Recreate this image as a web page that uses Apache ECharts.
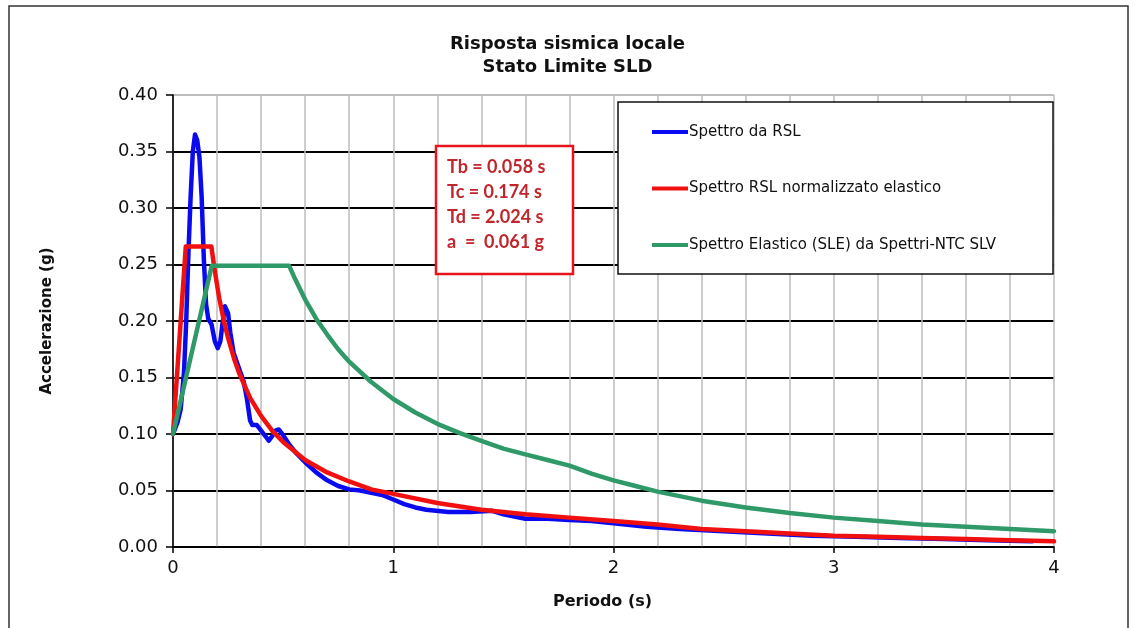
<!DOCTYPE html>
<html>
<head>
<meta charset="utf-8">
<title>Risposta sismica locale - Stato Limite SLD</title>
<script src="https://cdn.jsdelivr.net/npm/echarts@6/dist/echarts.min.js"></script>
<style>
  html, body { margin: 0; padding: 0; background: #fff; }
  #chart { width: 1135px; height: 628px; }
</style>
</head>
<body>
<div id="chart"></div>
<script>
// Spettro da RSL (periodo s, accelerazione g)
const periodRSL = [0, 0.02, 0.035, 0.05, 0.06, 0.07, 0.08, 0.09, 0.10, 0.11, 0.12, 0.13, 0.14, 0.15, 0.16,
  0.175, 0.19, 0.203, 0.215, 0.225, 0.236, 0.25, 0.26, 0.275, 0.30, 0.32, 0.335, 0.35, 0.36, 0.38, 0.40,
  0.42, 0.435, 0.45, 0.465, 0.48, 0.50, 0.53, 0.56, 0.60, 0.65, 0.70, 0.75, 0.80, 0.85, 0.90, 0.95, 1.00,
  1.05, 1.10, 1.15, 1.25, 1.35, 1.45, 1.50, 1.55, 1.60, 1.70, 1.80, 1.90, 2.00, 2.15, 2.30, 2.50, 2.70,
  2.90, 3.10, 3.30, 3.50, 3.70, 3.90];
const accRSL = [0.100, 0.110, 0.122, 0.155, 0.200, 0.260, 0.310, 0.350, 0.365, 0.360, 0.345, 0.310, 0.255, 0.215, 0.202,
  0.197, 0.182, 0.176, 0.182, 0.198, 0.213, 0.207, 0.190, 0.172, 0.158, 0.147, 0.132, 0.112, 0.108, 0.108, 0.103,
  0.098, 0.094, 0.098, 0.103, 0.104, 0.099, 0.090, 0.083, 0.075, 0.066, 0.059, 0.054, 0.051, 0.050, 0.048, 0.046, 0.042,
  0.038, 0.035, 0.033, 0.031, 0.031, 0.032, 0.029, 0.027, 0.025, 0.025, 0.024, 0.023, 0.021, 0.018, 0.016, 0.014, 0.012,
  0.010, 0.009, 0.008, 0.007, 0.006, 0.005];

// Spettro RSL normalizzato elastico
const periodNorm = [0, 0.058, 0.174, 0.19, 0.21, 0.23, 0.25, 0.28, 0.30, 0.35, 0.40, 0.45, 0.50, 0.60, 0.70, 0.80, 0.90,
  1.00, 1.20, 1.40, 1.60, 1.80, 2.00, 2.20, 2.40, 2.60, 2.80, 3.00, 3.20, 3.40, 3.60, 3.80, 4.00];
const accNorm = [0.100, 0.266, 0.266, 0.244, 0.220, 0.201, 0.185, 0.165, 0.154, 0.132, 0.116, 0.103, 0.093, 0.077, 0.066,
  0.058, 0.051, 0.047, 0.039, 0.033, 0.029, 0.026, 0.023, 0.020, 0.016, 0.014, 0.012, 0.010, 0.009, 0.008, 0.007, 0.006, 0.005];

// Spettro Elastico (SLE) da Spettri-NTC SLV
const periodNTC = [0, 0.176, 0.527, 0.55, 0.60, 0.65, 0.70, 0.75, 0.80, 0.90, 1.00, 1.10, 1.20, 1.30, 1.40, 1.50,
  1.60, 1.70, 1.80, 1.90, 2.00, 2.10, 2.20, 2.40, 2.60, 2.80, 3.00, 3.20, 3.40, 3.60, 3.80, 4.00];
const accNTC = [0.100, 0.249, 0.249, 0.239, 0.219, 0.202, 0.188, 0.175, 0.164, 0.146, 0.131, 0.119, 0.109, 0.101, 0.094, 0.087,
  0.082, 0.077, 0.072, 0.065, 0.059, 0.054, 0.049, 0.041, 0.035, 0.030, 0.026, 0.023, 0.020, 0.018, 0.016, 0.014];

const seriesNames = ['Spettro da RSL', 'Spettro RSL normalizzato elastico', 'Spettro Elastico (SLE) da Spettri-NTC SLV'];
const seriesColors = ['#0a0af0', '#f01010', '#2f9a68'];
const xTicks = [0, 1, 2, 3, 4];
const yTicks = [0, 0.05, 0.10, 0.15, 0.20, 0.25, 0.30, 0.35, 0.40];
const paramLines = ['Tb = 0.058 s', 'Tc = 0.174 s', 'Td = 2.024 s', 'a  =  0.061 g'];

const pairs = (xs, ys) => xs.map((x, i) => [x, ys[i]]);
const seriesData = [pairs(periodRSL, accRSL), pairs(periodNorm, accNorm), pairs(periodNTC, accNTC)];

const chart = echarts.init(document.getElementById('chart'), null, { renderer: 'canvas' });

// Horizontal grid lines: black inside, grey along the top edge of the plot
const hLineColors = yTicks.map((v, i) => (i === yTicks.length - 1 ? '#bdbdbd' : '#000'));

const option = {
  backgroundColor: '#fff',
  animation: false,
  title: {
    text: 'Risposta sismica locale\nStato Limite SLD',
    left: 'center',
    top: 28,
    textStyle: { fontFamily: 'DejaVu Sans', fontWeight: 'bold', fontSize: 18, lineHeight: 23, color: '#111', align: 'center' }
  },
  grid: { left: 173, right: 81, top: 95, bottom: 81, containLabel: false },
  xAxis: {
    type: 'value',
    min: xTicks[0],
    max: xTicks[xTicks.length - 1],
    interval: 1,
    name: 'Periodo (s)',
    nameLocation: 'middle',
    nameGap: 47,
    nameTextStyle: { fontFamily: 'DejaVu Sans', fontWeight: 'bold', fontSize: 16, color: '#111', padding: [0, 22, 0, 0] },
    axisLine: { show: true, onZero: false, lineStyle: { color: '#000', width: 1.6 } },
    axisTick: { show: true, inside: false, length: 6, lineStyle: { color: '#000', width: 1.5 } },
    axisLabel: { margin: 12, fontFamily: 'DejaVu Sans', fontSize: 18, color: '#111' },
    splitLine: { show: true, lineStyle: { color: '#bdbdbd', width: 1.5 } },
    minorTick: { show: false, splitNumber: 5 },
    minorSplitLine: { show: true, lineStyle: { color: '#bdbdbd', width: 1.5 } }
  },
  yAxis: {
    type: 'value',
    min: yTicks[0],
    max: yTicks[yTicks.length - 1],
    interval: 0.05,
    name: 'Accelerazione (g)',
    nameLocation: 'middle',
    nameRotate: 90,
    nameGap: 118,
    nameTextStyle: { fontFamily: 'DejaVu Sans', fontWeight: 'bold', fontSize: 15, color: '#111' },
    axisLine: { show: true, lineStyle: { color: '#000', width: 1.6 } },
    axisTick: { show: true, inside: false, length: 7, lineStyle: { color: '#000', width: 1.5 } },
    axisLabel: {
      margin: 15,
      fontFamily: 'DejaVu Sans',
      fontSize: 18,
      color: '#111',
      formatter: v => v.toFixed(2)
    },
    splitLine: { show: true, lineStyle: { color: hLineColors, width: 1.8 } }
  },
  legend: {
    orient: 'vertical',
    left: 652,
    top: 123,
    padding: 0,
    itemGap: 38.5,
    itemWidth: 36,
    itemHeight: 4,
    icon: 'rect',
    z: 10,
    data: seriesNames,
    textStyle: { fontFamily: 'DejaVu Sans', fontSize: 15, lineHeight: 18, color: '#111', padding: [0, 0, 0, -4] }
  },
  graphic: [
    {
      type: 'rect',
      z: 5,
      shape: { x: 618, y: 102, width: 435, height: 172 },
      style: { fill: '#fff', stroke: '#111', lineWidth: 1.5 }
    },
    {
      type: 'rect',
      z: 5,
      shape: { x: 436, y: 146, width: 137, height: 128 },
      style: { fill: '#fff', stroke: '#e8141c', lineWidth: 2.5 }
    },
    {
      type: 'text',
      z: 6,
      x: 447,
      y: 155,
      style: {
        text: paramLines.join('\n'),
        fontFamily: 'Lato',
        fontWeight: 'bold',
        fontSize: 18,
        lineHeight: 25,
        fill: '#c0262c',
        textVerticalAlign: 'top',
        verticalAlign: 'top'
      }
    },
    {
      type: 'rect',
      z: 0,
      silent: true,
      shape: { x: 9, y: 6, width: 1119, height: 700 },
      style: { fill: 'none', stroke: '#333', lineWidth: 1.5 }
    }
  ],
  series: seriesNames.map((name, i) => ({
    name,
    type: 'line',
    data: seriesData[i],
    showSymbol: false,
    symbol: 'none',
    z: 2 + i * 0.1,
    lineStyle: { color: seriesColors[i], width: 4.5, join: 'round', cap: 'round' },
    itemStyle: { color: seriesColors[i] }
  }))
};

chart.setOption(option);
</script>
</body>
</html>
